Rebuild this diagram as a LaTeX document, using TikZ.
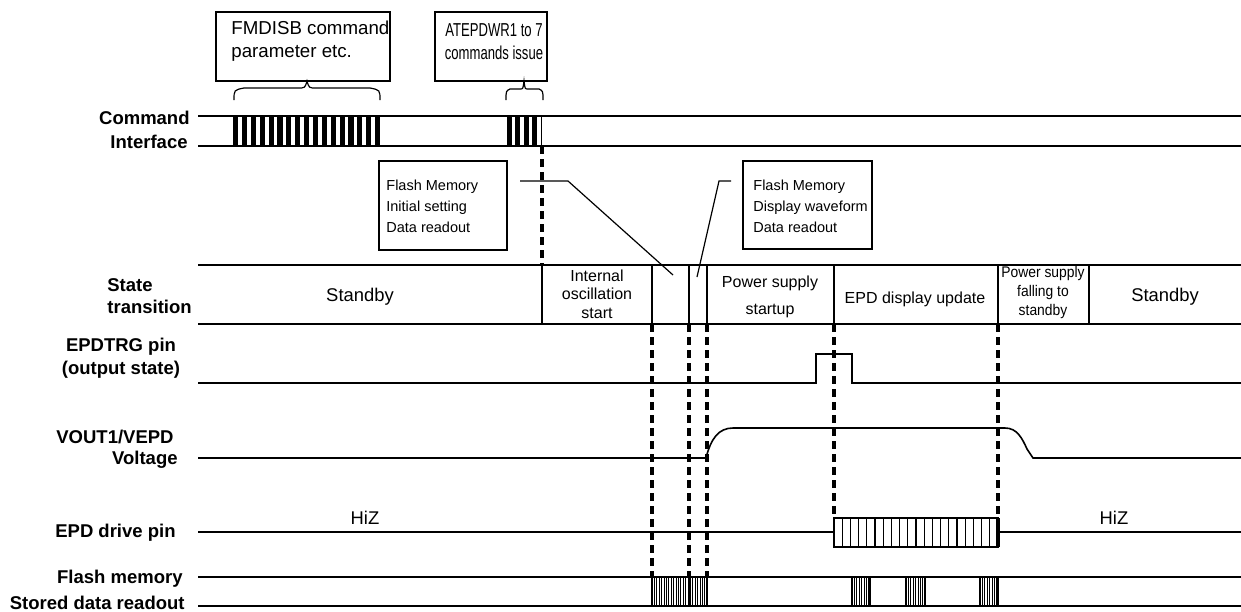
\documentclass[tikz,border=0pt]{standalone}
\usepackage{fontspec}
\setmainfont{Liberation Sans}
\usepackage{graphicx}
\begin{document}
\begin{tikzpicture}[x=0.5pt,y=-0.5pt,
  sig/.style={line width=0.8pt},
  vdash/.style={line width=1.8pt, dash pattern=on 4pt off 2.5pt},
  leader/.style={line width=0.6pt},
  lbl/.style={inner sep=0pt, font=\bfseries\fontsize{9.25}{11.5}\selectfont},
  st/.style={inner sep=0pt, align=center, font=\fontsize{8}{9.3}\selectfont},
  big/.style={inner sep=0pt, font=\fontsize{9.2}{11}\selectfont},
  boxtxt/.style={inner sep=0pt, align=left, font=\fontsize{7.25}{10.5}\selectfont},
  toptxt/.style={inner sep=0pt, font=\fontsize{9.35}{11.5}\selectfont},
  box/.style={draw, line width=0.75pt, inner sep=0pt, rectangle}]
\useasboundingbox (0,0) rectangle (1241,611);

% ---------- row labels ----------
\node[lbl, anchor=east] (l1) at (190,118) {Command};
\node[lbl, anchor=east] (l2) at (188,142) {Interface};
\node[lbl, anchor=west] (l3) at (107,285) {State};
\node[lbl, anchor=west] (l4) at (107,307) {transition};
\node[lbl] (l5) at (121,347) {EPDTRG pin};
\node[lbl] (l6) at (121,370) {(output state)};
\node[lbl] (l7) at (115,437) {VOUT1/VEPD};
\node[lbl, anchor=east] (l8) at (178,460) {Voltage};
\node[lbl, anchor=east] (l9) at (176,533) {EPD drive pin};
\node[lbl, anchor=east] (l10) at (183,579) {Flash memory};
\node[lbl, anchor=east] (l11) at (185,603) {Stored data readout};

% ---------- top callout boxes ----------
\node[box, minimum width=87pt, minimum height=34.5pt] (fmbox) at (303,46.5) {};
\node[toptxt, anchor=west, align=left] (fmtxt) at (231,41.5) {FMDISB command\\parameter etc.};
\node[box, minimum width=56pt, minimum height=34.5pt] (atbox) at (491,46.5) {};
\node[toptxt, align=center] (attxt) at (494,41.5) {\scalebox{0.7}[1]{ATEPDWR1 to 7}\\\scalebox{0.7}[1]{commands issue}};

% braces
\draw[leader] (234,100) .. controls (234,90) .. (244,88) -- (298,88)
  .. controls (305,88) .. (307,81) .. controls (309,88) .. (316,88)
  -- (370,88) .. controls (380,90) .. (380,100);
\draw[leader] (506,100) .. controls (506,91) .. (510,89) -- (520,89)
  .. controls (523,89) .. (524,81) .. controls (525,89) .. (528,89)
  -- (539,89) .. controls (543,91) .. (543,100);

% ---------- command interface ----------
\draw[sig] (198,116) -- (1241,116);
\draw[sig] (198,146) -- (1241,146);
\foreach \i in {0,...,16} \fill ({233+\i*8.875},116) rectangle ++(5.2,30);
\foreach \i in {0,...,3} \fill ({507+\i*8.4},116) rectangle ++(4.8,30);
\draw[line width=0.9pt] (541.5,116) -- (541.5,146);
\coordinate (d0a) at (542,146);
\coordinate (d0b) at (542,265);
\draw[vdash] (d0a) -- (d0b);

% ---------- flash memory callouts ----------
\node[box, minimum width=64pt, minimum height=44.5pt] (fb1) at (443,205.5) {};
\node[boxtxt, anchor=west] (fb1t) at (386,206) {Flash Memory\\Initial setting\\Data readout};
\node[box, minimum width=64.5pt, minimum height=44pt] (fb2) at (807.5,205) {};
\node[boxtxt, anchor=west] (fb2t) at (753,206) {Flash Memory\\Display waveform\\Data readout};
\coordinate (ld1a) at (520,181);
\coordinate (ld1b) at (568,181);
\coordinate (ld1c) at (673,275);
\draw[leader] (ld1a) -- (ld1b) -- (ld1c);
\coordinate (ld2a) at (731,181);
\coordinate (ld2b) at (719,181);
\coordinate (ld2c) at (697,277);
\draw[leader] (ld2a) -- (ld2b) -- (ld2c);

% ---------- state transition ----------
\draw[sig] (198,265) -- (1241,265);
\draw[sig] (198,324) -- (1241,324);
\foreach \x in {542,652,689,707,834,998,1089} \draw[sig] (\x,265) -- (\x,324);
\node[big] (s1) at (360,297) {Standby};
\node[st] (s2) at (597,294) {Internal\\oscillation\\start};
\node[st, font=\fontsize{8}{13.5}\selectfont] (s3) at (770,297) {Power supply\\startup};
\node[st] (s4) at (915,299) {EPD display update};
\node[st, font=\fontsize{7.7}{9.5}\selectfont] (s5) at (1043,293) {\scalebox{0.9}[1]{Power supply}\\\scalebox{0.9}[1]{falling to}\\\scalebox{0.9}[1]{standby}};
\node[big] (s6) at (1165,297) {Standby};

% ---------- EPDTRG ----------
\draw[sig] (198,383) -- (816,383) -- (816,354) -- (852,354) -- (852,383) -- (1241,383);

% ---------- VOUT1/VEPD ----------
\draw[sig] (198,458) -- (706,458) .. controls (711,438) and (719,428) .. (733,428)
  -- (1005,428) .. controls (1017,428) and (1022,438) .. (1027,449) -- (1033,458) -- (1241,458);

% ---------- EPD drive pin ----------
\draw[sig] (198,532) -- (834,532);
\draw[sig] (998,532) -- (1241,532);
\draw[sig] (834,518) rectangle (998,547);
\foreach \i in {1,...,19} \draw[line width=0.6pt] ({834+\i*8.2},518) -- ++(0,29);
\draw[line width=1.6pt] (998,518) -- (998,547);
\node[big] (h1) at (365,518) {HiZ};
\node[big] (h2) at (1114,518) {HiZ};

% ---------- flash memory readout ----------
\draw[sig] (198,577) -- (1241,577);
\draw[sig] (198,606) -- (1241,606);
\foreach \a/\b in {652/707, 852/870, 906/925, 980/998} {
  \draw[line width=0.6pt] (\a,577) rectangle (\b,606);
  \pgfmathtruncatemacro{\n}{(\b-\a)/2.4}
  \foreach \i in {1,...,\n} \draw[line width=0.35pt] ({\a+\i*2.4},577) -- ++(0,29);
}
\draw[line width=0.8pt] (689,577) -- (689,606);

% ---------- dashed timing markers ----------
\foreach \x in {652,689,707} {
  \coordinate (t\x) at (\x,324);
  \coordinate (b\x) at (\x,577);
  \draw[vdash] (t\x) -- (b\x);
}
\foreach \x in {834,998} {
  \coordinate (t\x) at (\x,324);
  \coordinate (b\x) at (\x,518);
  \draw[vdash] (t\x) -- (b\x);
}
\end{tikzpicture}
\end{document}
